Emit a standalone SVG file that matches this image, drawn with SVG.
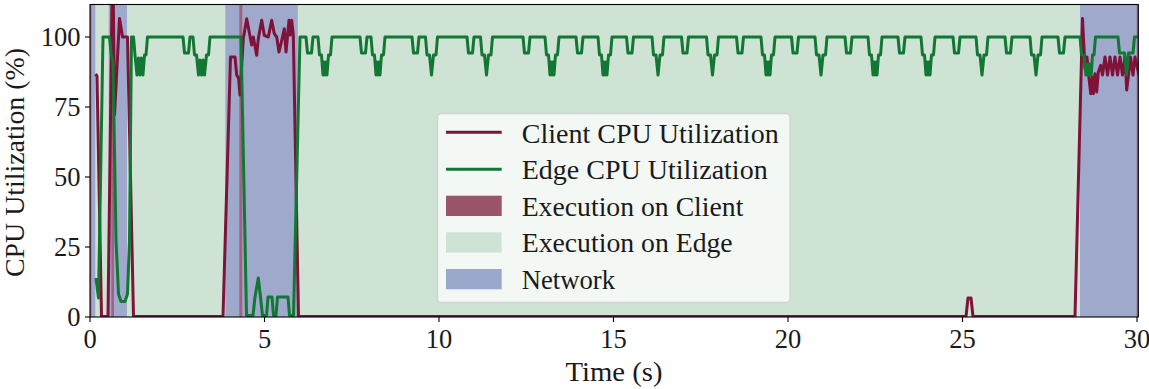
<svg xmlns="http://www.w3.org/2000/svg" width="1149" height="389" viewBox="0 0 1149 389">
  <style>
    text { font-family: 'Liberation Serif', 'DejaVu Serif', serif; font-size: 26.5px; fill: #1a1a1a; }
    .ytick { text-anchor: end; }
    .xtick { text-anchor: middle; }
    .tick { stroke: #000; stroke-width: 1.1; }
    .edge-band { fill: #cfe3d5; }
    .net-band { fill: #9ea9cb; }
    .client-band { fill: #a3617f; }
    .client-line { fill: none; stroke: #7e1238; stroke-width: 3; stroke-linejoin: round; stroke-linecap: butt; }
    .edge-line { fill: none; stroke: #117733; stroke-width: 3; stroke-linejoin: round; stroke-linecap: butt; }
  </style>
  <defs>
    <clipPath id="plotArea">
      <rect x="90" y="4.5" width="1048.3" height="312.5"/>
    </clipPath>
  </defs>

  <rect x="0" y="0" width="1149" height="389" fill="#ffffff"/>

  <!-- execution phase bands -->
  <g id="bands">
    <rect class="edge-band" x="90" y="4.5" width="1048.3" height="312.5"/>
    <rect class="net-band" x="90" y="4.5" width="5.3" height="312.5"/>
    <rect class="net-band" x="108.7" y="4.5" width="18.3" height="312.5"/>
    <rect class="net-band" x="225.3" y="4.5" width="72.5" height="312.5"/>
    <rect class="net-band" x="1080" y="4.5" width="58.3" height="312.5"/>
    <rect class="client-band" x="90" y="4.5" width="1.4" height="312.5"/>
    <rect class="client-band" x="111.3" y="4.5" width="2.7" height="312.5"/>
    <rect class="client-band" x="239.3" y="4.5" width="3" height="312.5"/>
    <rect class="client-band" x="1136.7" y="4.5" width="1.6" height="312.5"/>
  </g>

  <!-- utilisation traces -->
  <g id="series" clip-path="url(#plotArea)">
    <path id="client-cpu" class="client-line" d="M95.5,74 L97,76 L101.5,316.5 L108,316.5 L112,0 L113.3,0 L114.5,115 L119.5,18.5 L122.5,37 L127.5,37 L133.5,316.5 L223,316.5 L230.5,57 L235,57 L236.7,75 L238.5,78 L240,95 L243.3,38.7 L246.7,18.7 L251.7,45 L253.3,37 L256.7,55.3 L258.3,38.7 L261.7,20.3 L264.3,35.3 L268.3,37 L271.7,20.3 L274.3,33.7 L276.7,37 L279,52 L281,43.7 L284.3,28.7 L286,52 L289,20.3 L290.3,35 L291.7,20.3 L293.3,35 L298.5,316.5 L966,316.5 L968,298 L971,298 L973,316.5 L1075,316.5 L1082.5,18.5 L1085,68.7 L1087,57 L1088.5,73.7 L1090.7,93.7 L1092.3,77 L1093.3,93.7 L1095,73.7 L1096.7,92 L1098.3,72 L1100.7,65.3 L1102.5,75 L1105,57 L1107.5,75 L1110,57 L1112.5,75 L1115,57 L1117.5,75 L1120,57 L1122.5,75 L1125,57 L1126.7,90 L1128.5,75 L1130.5,57 L1133,75 L1135,57 L1139,75"/>
    <path id="edge-cpu" class="edge-line" d="M96,278 L98.5,298 L103,37 L109.5,37 L111.3,55 L113,62 L116,240 L118.5,294 L121,301.5 L125,301.5 L127.5,294 L129.5,240 L131.5,37 L133.5,37 L135,55 L137,75 L138.5,58 L140,75 L141.5,58 L143,75 L144.5,55 L146,55 L147.5,37
      L183,37 L184.5,53 L188.5,53 L190,37
      L193,37 L194.5,55 L196.5,55 L198.5,75 L200,60 L201.5,75 L203,60 L204.5,75 L206.5,55 L208.5,55 L210,37
      L241,37 L246.5,315.5 L253,315.5 L255,297 L258.3,278 L260.5,297 L262.5,315.5 L266.5,315.5 L268,297 L272,297 L273.5,315.5 L276,315.5 L277.5,297 L288,297 L289.5,315.5 L293.5,315.5 L300,37
      L306,37 L307.5,53 L311.5,53 L313,37
      L318,37 L319.5,55 L321.5,55 L323,75 L324,62 L325,75 L326,62 L327,75 L328.5,55 L330.5,55 L332,37
      L360,37 L361.5,53 L365.5,53 L367,37
      L371,37 L372.5,55 L374.5,55 L376,75 L377,62 L378,75 L379,62 L380,75 L381.5,55 L383.5,55 L385,37
      L412,37 L413.5,53 L417.5,53 L419,37
      L425.5,37 L427,55 L429.5,55 L431.5,75 L433.5,55 L436,55 L437.5,37
      L467,37 L468.5,53 L472.5,53 L474,37
      L480.5,37 L482,55 L484.5,55 L486.5,75 L488.5,55 L491,55 L492.5,37
      L523,37 L524.5,53 L528.5,53 L530,37
      L545,37 L546.5,55 L548.5,55 L550,75 L551,62 L552,75 L553,62 L554,75 L555.5,55 L557.5,55 L559,37
      L576,37 L577.5,53 L581.5,53 L583,37
      L598,37 L599.5,55 L601.5,55 L603,75 L604,62 L605,75 L606,62 L607,75 L608.5,55 L610.5,55 L612,37
      L626.5,37 L628,53 L632,53 L633.5,37
      L652,37 L653.5,55 L656,55 L658,75 L660,55 L662.5,55 L664,37
      L681.5,37 L683,53 L687,53 L688.5,37
      L706.5,37 L708,55 L710.5,55 L712.5,75 L714.5,55 L717,55 L718.5,37
      L736.5,37 L738,53 L742,53 L743.5,37
      L761,37 L762.5,55 L764.5,55 L766,75 L767,62 L768,75 L769,62 L770,75 L771.5,55 L773.5,55 L775,37
      L791.5,37 L793,53 L797,53 L798.5,37
      L815,37 L816.5,55 L819,55 L821,75 L823,55 L825.5,55 L827,37
      L845,37 L846.5,53 L850.5,53 L852,37
      L868,37 L869.5,55 L871.5,55 L873,75 L874,62 L875,75 L876,62 L877,75 L878.5,55 L880.5,55 L882,37
      L898,37 L899.5,53 L903.5,53 L905,37
      L921,37 L922.5,55 L924.5,55 L926,75 L927,62 L928,75 L929,62 L930,75 L931.5,55 L933.5,55 L935,37
      L953,37 L954.5,53 L958.5,53 L960,37
      L976,37 L977.5,55 L980,55 L982,75 L984,55 L986.5,55 L988,37
      L1005,37 L1006.5,53 L1010.5,53 L1012,37
      L1030,37 L1031.5,55 L1034,55 L1036,75 L1038,55 L1040.5,55 L1042,37
      L1058,37 L1059.5,53 L1063.5,53 L1065,37
      L1080,37 L1081.5,55 L1084,55 L1086,75 L1087.3,64 L1088.6,75 L1089.9,64 L1091.2,75 L1092.5,55 L1094,55 L1095.5,37
      L1118,37 L1119.5,53 L1124.5,53 L1126.5,75 L1128.5,53 L1133,53 L1134.5,37 L1139,37"/>
  </g>

  <!-- axes frame, ticks and labels -->
  <g id="axes">
    <rect x="90" y="4.5" width="1048.3" height="312.5" fill="none" stroke="#000" stroke-width="1.1"/>
    <g id="y-ticks">
      <line class="tick" x1="85" y1="317" x2="90" y2="317"/>
      <line class="tick" x1="85" y1="247" x2="90" y2="247"/>
      <line class="tick" x1="85" y1="177" x2="90" y2="177"/>
      <line class="tick" x1="85" y1="107" x2="90" y2="107"/>
      <line class="tick" x1="85" y1="37" x2="90" y2="37"/>
      <text class="ytick" x="80.5" y="326.3">0</text>
      <text class="ytick" x="80.5" y="256.3">25</text>
      <text class="ytick" x="80.5" y="186.3">50</text>
      <text class="ytick" x="80.5" y="116.3">75</text>
      <text class="ytick" x="80.5" y="46.3">100</text>
    </g>
    <g id="x-ticks">
      <line class="tick" x1="90" y1="317" x2="90" y2="322"/>
      <line class="tick" x1="264.5" y1="317" x2="264.5" y2="322"/>
      <line class="tick" x1="439" y1="317" x2="439" y2="322"/>
      <line class="tick" x1="613.5" y1="317" x2="613.5" y2="322"/>
      <line class="tick" x1="788" y1="317" x2="788" y2="322"/>
      <line class="tick" x1="962.5" y1="317" x2="962.5" y2="322"/>
      <line class="tick" x1="1137" y1="317" x2="1137" y2="322"/>
      <text class="xtick" x="90" y="347.5">0</text>
      <text class="xtick" x="264.5" y="347.5">5</text>
      <text class="xtick" x="439" y="347.5">10</text>
      <text class="xtick" x="613.5" y="347.5">15</text>
      <text class="xtick" x="788" y="347.5">20</text>
      <text class="xtick" x="962.5" y="347.5">25</text>
      <text class="xtick" x="1137" y="347.5">30</text>
    </g>
    <text id="x-label" x="614" y="381" text-anchor="middle" textLength="97" lengthAdjust="spacingAndGlyphs">Time (s)</text>
    <text id="y-label" transform="translate(23.5,162.5) rotate(-90)" text-anchor="middle" textLength="229" lengthAdjust="spacingAndGlyphs">CPU Utilization (%)</text>
  </g>

  <!-- legend -->
  <g id="legend">
    <rect x="437.5" y="113.5" width="352.5" height="189" rx="4" fill="#f4f8f5" stroke="#cfd3d0" stroke-width="1.3"/>
    <g id="legend-client-cpu">
      <line x1="446" y1="132.3" x2="501.7" y2="132.3" stroke="#7e1238" stroke-width="3"/>
      <text x="521.7" y="142.7" textLength="257" lengthAdjust="spacingAndGlyphs">Client CPU Utilization</text>
    </g>
    <g id="legend-edge-cpu">
      <line x1="446" y1="169.3" x2="501.7" y2="169.3" stroke="#117733" stroke-width="3"/>
      <text x="521.7" y="179.2" textLength="246" lengthAdjust="spacingAndGlyphs">Edge CPU Utilization</text>
    </g>
    <g id="legend-exec-client">
      <rect x="446" y="195.7" width="55.7" height="20.3" fill="#9b5568"/>
      <text x="521.7" y="215.7" textLength="221.7" lengthAdjust="spacingAndGlyphs">Execution on Client</text>
    </g>
    <g id="legend-exec-edge">
      <rect x="446" y="232.3" width="55.7" height="20.3" fill="#cee3d4"/>
      <text x="521.7" y="252.2" textLength="211" lengthAdjust="spacingAndGlyphs">Execution on Edge</text>
    </g>
    <g id="legend-network">
      <rect x="446" y="269" width="55.7" height="20.3" fill="#9aa8cb"/>
      <text x="521.7" y="288.7" textLength="93.3" lengthAdjust="spacingAndGlyphs">Network</text>
    </g>
  </g>
</svg>
